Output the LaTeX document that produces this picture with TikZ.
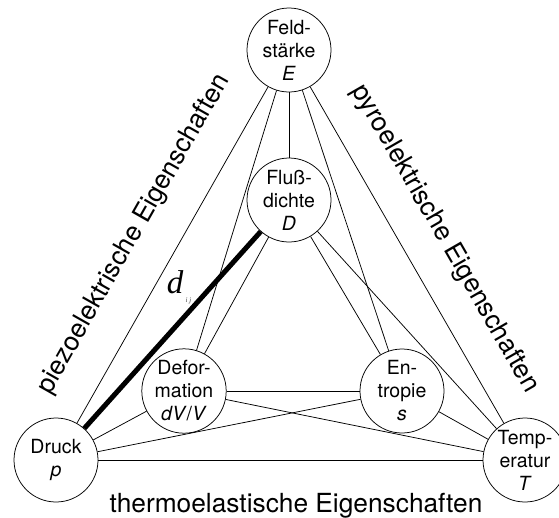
\documentclass[tikz,border=0pt]{standalone}
\usepackage{fontspec}
\setmainfont{TeX Gyre Heros}
\newfontfamily\seriffont{Liberation Serif}
\begin{document}
\begin{tikzpicture}[x=1pt,y=-1pt,
  state/.style={circle,draw,line width=0.75pt,inner sep=0pt,minimum size=84pt,align=center,
    font=\fontsize{19.5}{23}\selectfont},
  edge/.style={line width=0.75pt},
  sidelabel/.style={font=\fontsize{26.3}{30}\selectfont,inner sep=0pt}]
\useasboundingbox (0,0) rectangle (559,517);
\node[state] (E) at (289,50) {Feld-\\stärke\\\textit{E}};
\node[state] (D) at (289,200) {Flu\ss-\\dichte\\\textit{D}};
\node[state] (V) at (184,391) {Defor-\\mation\\\textit{dV}/\textit{V}};
\node[state] (S) at (402,391) {En-\\tropie\\\textit{s}};
\node[state] (P) at (56,460) {Druck\\\textit{p}};
\node[state] (T) at (525,460) {Temp-\\eratur\\\textit{T}};
\foreach \a/\b in {E/D,E/V,E/S,E/P,E/T,D/V,D/S,D/T,V/S,V/P,V/T,S/P,S/T,P/T}
  \draw[edge] (\a) -- (\b);
\draw[line width=5pt] (P) -- (D);
\node[font=\fontsize{33}{33}\seriffont\itshape,inner sep=0pt,anchor=base] (dd) at (175,293) {d};
\node[font=\fontsize{7}{7}\seriffont\itshape,inner sep=0pt,text=black!75] (ij) at (188.5,301) {i j};
\node[sidelabel,rotate=60.4] (piezo) at (134,234) {piezoelektrische Eigenschaften};
\node[sidelabel,rotate=-60.1] (pyro) at (445,239) {pyroelektrische Eigenschaften};
\node[sidelabel,anchor=base] (thermo) at (296,512) {thermoelastische Eigenschaften};
\end{tikzpicture}
\end{document}
